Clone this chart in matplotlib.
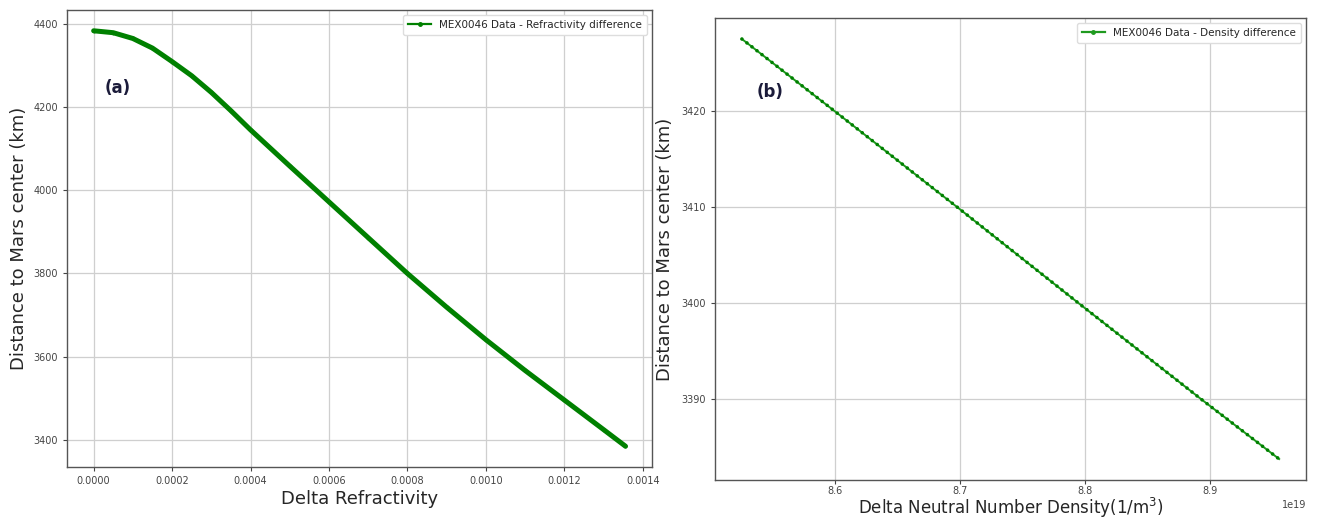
import matplotlib.pyplot as plt
from matplotlib.lines import Line2D

# Panel (a): refractivity difference vs distance to Mars center
delta_refractivity = [0.0, 0.00005, 0.0001, 0.00015, 0.0002, 0.00025, 0.0003, 0.00035,
                      0.0004, 0.0005, 0.0006, 0.0007, 0.0008, 0.0009, 0.001, 0.0011,
                      0.0012, 0.0013, 0.001356]
distance_a = [4383, 4378.4, 4364.5, 4341.4, 4309, 4275, 4235, 4191, 4145, 4058, 3972,
              3886, 3800, 3719, 3641, 3567, 3496, 3425, 3385]

# Panel (b): neutral number density difference vs distance to Mars center
delta_density = [8.526e19, 8.600e19, 8.698e19, 8.795e19, 8.893e19, 8.955e19]
distance_b = [3427.5, 3420, 3410, 3400, 3390, 3383.8]

label_a = "MEX0046 Data - Refractivity difference"
label_b = "MEX0046 Data - Density difference"

fig = plt.figure(figsize=(13.2, 5.19), dpi=100)
ax1 = fig.add_axes([0.0508, 0.1002, 0.4432, 0.8805])
ax2 = fig.add_axes([0.5417, 0.0751, 0.4477, 0.8902])

text_color = "#262626"
grid_color = "#cfcfcf"

# thick curve for (a)
ax1.plot(delta_refractivity, distance_a, ".-", color="green", lw=3.6, ms=3.5,
         solid_capstyle="round", solid_joinstyle="round")
# thin line with beads for (b)
ax2.plot(delta_density, distance_b, "-", color="#1f9a1f", lw=1.4)
ax2.plot(delta_density, distance_b, color="green", lw=2.6,
         linestyle=(0, (0.01, 1.75)), dash_capstyle="round")

for ax in (ax1, ax2):
    ax.grid(True, color=grid_color, lw=0.9)
    ax.set_axisbelow(True)
    ax.tick_params(labelsize=7, colors="#444444", length=3)
    for s in ax.spines.values():
        s.set_color("#555555")
        s.set_linewidth(1.0)

ax1.set_xticks([0.0, 0.0002, 0.0004, 0.0006, 0.0008, 0.0010, 0.0012, 0.0014])
ax1.set_xticklabels(["0.0000", "0.0002", "0.0004", "0.0006", "0.0008", "0.0010", "0.0012", "0.0014"])
ax1.set_yticks([3400, 3600, 3800, 4000, 4200, 4400])
ax1.set_xlabel("Delta Refractivity", fontsize=13, color=text_color, labelpad=3)
ax1.set_ylabel("Distance to Mars center (km)", fontsize=13, color=text_color, labelpad=4)

ax2.set_yticks([3390, 3400, 3410, 3420])
ax2.set_xticks([8.6e19, 8.7e19, 8.8e19, 8.9e19])
ax2.tick_params(axis="x", pad=1.5)
ax2.xaxis.get_offset_text().set_fontsize(7)
ax2.xaxis.get_offset_text().set_color("#444444")
ax2.set_xlabel("Delta Neutral Number Density(1/m$^3$)", fontsize=12, color=text_color, labelpad=0)
ax2.set_ylabel("Distance to Mars center (km)", fontsize=13, color=text_color, labelpad=5)

h1 = Line2D([], [], color="green", marker=".", lw=1.6, ms=5)
h2 = Line2D([], [], color="#1f9a1f", marker=".", lw=1.6, ms=5)
for ax, h, lab in ((ax1, h1, label_a), (ax2, h2, label_b)):
    leg = ax.legend([h], [lab], loc="upper right", fontsize=7.5, handlelength=2.2,
                    borderpad=0.45, framealpha=1, edgecolor="#dddddd")
    for t in leg.get_texts():
        t.set_color(text_color)

ax1.text(0.087, 0.83, "(a)", transform=ax1.transAxes, fontsize=12, fontweight="bold",
         color="#1b1b3a", ha="center", va="center")
ax2.text(0.093, 0.84, "(b)", transform=ax2.transAxes, fontsize=12, fontweight="bold",
         color="#1b1b3a", ha="center", va="center")

fig.savefig("out.png", dpi=100)
